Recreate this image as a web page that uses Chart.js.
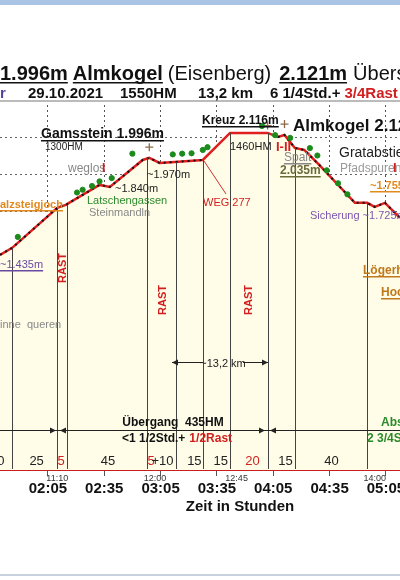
<!DOCTYPE html>
<html>
<head>
<meta charset="utf-8">
<script src="https://cdn.jsdelivr.net/npm/chart.js@4"></script>
<style>
  body { margin: 0; background: #fff; }
  #wrap { width: 400px; height: 580px; position: relative; }
</style>
</head>
<body>
<div id="wrap"><canvas id="profile" width="400" height="580"></canvas></div>
<script>
// Profile: time in minutes from start, elevation in m
const profileTime = [99.5, 106, 130, 134.5, 152.5, 158, 175.5, 179, 184.5, 192.5, 207.5, 222, 242, 247.5, 251, 256.5, 261.5, 269.5, 288.5, 295, 299, 304.5, 312.5];
const profileElev = [1463, 1501, 1717, 1733, 1841, 1830, 1976, 1987, 1960, 1965, 1976, 2122, 2122, 2100, 2111, 2041, 2030, 1949, 1744, 1744, 1722, 1744, 1663];

// waypoints (vertical lines down to the axis)
const wayTime = [106, 130, 135, 178, 193, 207.5, 222, 242, 256.5, 295];
const wayElev = [1501, 1717, 1733, 1987, 1965, 1976, 2122, 2122, 2041, 1744];

// vegetation dots above the path
const treeTime = [109, 140.5, 143.5, 148.5, 152.5, 159, 170, 191.5, 196.5, 201.5, 207.5, 210, 239, 246, 254, 264.5, 268.5, 273.5, 279.5, 284.5];
const treeElev = [1560, 1800, 1815, 1835, 1860, 1878, 2010, 2006, 2010, 2012, 2030, 2045, 2160, 2110, 2095, 2040, 2000, 1920, 1850, 1790];

// summit markers
const peakTime = [179, 242, 251];
const peakElev = [2045, 2162, 2170];

// elevation grid (m)
const gridElev = [1700, 1900, 2100];

// x-axis ticks (minutes) and labels
const tickTimes = [125, 155, 185, 215, 245, 275, 305];
const tickLabels = ['02:05', '02:35', '03:05', '03:35', '04:05', '04:35', '05:05'];

// clock times under the axis
const clockTime = [130, 182, 225.5, 299];
const clockLabels = ['11:10', '12:00', '12:45', '14:00'];

// segment durations (minutes) along the bottom
const segTime = [100, 119, 132, 157, 180, 186, 203, 217, 234, 251.5, 276];
const segLabels = ['0', '25', '5', '45', '5', '+10', '15', '15', '20', '15', '40'];
const segRed = [false, false, true, false, true, false, false, false, true, false, false];

const profilePts = profileTime.map((t, i) => ({ x: t, y: profileElev[i] }));
const dottedPts = profileTime.map((t, i) => ({ x: t, y: (t > 207.5 && t < 247.5) ? null : profileElev[i] }));

function txt(ctx, s, x, y, font, color, opts) {
    opts = opts || {};
    ctx.save();
    ctx.font = font;
    ctx.fillStyle = color;
    ctx.textAlign = opts.align || 'left';
    ctx.textBaseline = 'alphabetic';
    ctx.fillText(s, x, y);
    const w = ctx.measureText(s).width;
    if (opts.underline) {
        let x0 = x;
        if (opts.align === 'center') x0 = x - w / 2;
        ctx.fillRect(x0, y + 2, w, 1.5);
    }
    ctx.restore();
    return w;
}

function arrow(ctx, x, y, dir) {
    ctx.beginPath();
    ctx.moveTo(x, y);
    ctx.lineTo(x - dir * 6, y - 3);
    ctx.lineTo(x - dir * 6, y + 3);
    ctx.closePath();
    ctx.fill();
}

const decorations = {
    id: 'decorations',
    beforeDatasetsDraw(chart) {
        const ctx = chart.ctx;
        const ys = chart.scales.y;
        const { left, right } = chart.chartArea;
        ctx.save();
        ctx.strokeStyle = '#666';
        ctx.lineWidth = 1;
        ctx.setLineDash([2, 3]);
        gridElev.forEach(e => {
            const py = Math.round(ys.getPixelForValue(e)) + 0.5;
            ctx.beginPath();
            ctx.moveTo(left, py);
            ctx.lineTo(right, py);
            ctx.stroke();
        });
        ctx.restore();
    },
    afterDatasetsDraw(chart) {
        const ctx = chart.ctx;
        const xs = chart.scales.x, ys = chart.scales.y;
        const bottom = chart.chartArea.bottom;
        ctx.save();
        ctx.strokeStyle = '#444';
        ctx.lineWidth = 1;
        wayTime.forEach((t, i) => {
            const px = Math.round(xs.getPixelForValue(t)) + 0.5;
            ctx.beginPath();
            ctx.moveTo(px, ys.getPixelForValue(wayElev[i]));
            ctx.lineTo(px, bottom - 1);
            ctx.stroke();
        });
        ctx.restore();
    },
    afterDraw(chart) {
        const ctx = chart.ctx;
        const xs = chart.scales.x;
        const A = 'Arial, "Liberation Sans", sans-serif';

        // frame
        ctx.fillStyle = '#a9c4e4';
        ctx.fillRect(0, 0, 400, 5);
        ctx.fillStyle = '#c8d2de';
        ctx.fillRect(0, 574, 400, 2);
        ctx.fillStyle = '#bbbbbb';
        ctx.fillRect(0, 100, 400, 2);

        // title line
        let x = 0;
        x += txt(ctx, '1.996m', x, 80, 'bold 20px ' + A, '#111', { underline: true }) + 5;
        x += txt(ctx, 'Almkogel', x, 80, 'bold 20px ' + A, '#111', { underline: true }) + 5;
        x += txt(ctx, '(Eisenberg)', x, 80, '20px ' + A, '#111') + 8;
        x += txt(ctx, '2.121m', x, 80, 'bold 20px ' + A, '#111', { underline: true }) + 6;
        txt(ctx, 'Übers', x, 80, '20px ' + A, '#111');

        // sub title
        txt(ctx, 'r', 0, 98, 'bold 15px ' + A, '#5a3ea0');
        txt(ctx, '29.10.2021', 28, 98, 'bold 15px ' + A, '#111');
        txt(ctx, '1550HM', 120, 98, 'bold 15px ' + A, '#111');
        txt(ctx, '13,2 km', 198, 98, 'bold 15px ' + A, '#111');
        const w = txt(ctx, '6 1/4Std.+', 270, 98, 'bold 15px ' + A, '#111');
        txt(ctx, '3/4Rast', 274 + w, 98, 'bold 15px ' + A, '#d21f1f');

        // place labels
        txt(ctx, 'Kreuz 2.116m', 202, 124, 'bold 12px ' + A, '#111', { underline: true });
        txt(ctx, 'Almkogel 2.121', 293, 131, 'bold 17px ' + A, '#111');
        txt(ctx, 'Gamsstein 1.996m', 41, 138, 'bold 14px ' + A, '#111', { underline: true });
        txt(ctx, '1300HM', 45, 150, '10px ' + A, '#222');
        txt(ctx, '1460HM', 230, 150, '11px ' + A, '#222');
        txt(ctx, 'I-II', 276, 151, 'bold 13px ' + A, '#d21f1f');
        txt(ctx, 'Spalt', 284, 161, '12px ' + A, '#888', { underline: true });
        txt(ctx, '2.035m', 280, 174, 'bold 12px ' + A, '#6b6b3a', { underline: true });
        txt(ctx, 'Gratabstieg', 339, 157, '14px ' + A, '#222');
        txt(ctx, 'Pfadspuren', 340, 172, '12px ' + A, '#999');
        txt(ctx, 'I', 393, 172, 'bold 13px ' + A, '#d21f1f');
        txt(ctx, 'weglos', 68, 172, '12px ' + A, '#888');
        txt(ctx, 'I', 102, 172, 'bold 12px ' + A, '#d21f1f');
        txt(ctx, '~1.970m', 147, 178, '11px ' + A, '#222');
        txt(ctx, '~1.840m', 115, 192, '11px ' + A, '#222');
        txt(ctx, 'Latschengassen', 87, 204, '11px ' + A, '#2b8a2b');
        txt(ctx, 'Steinmandln', 89, 216, '11px ' + A, '#888');
        txt(ctx, 'WEG 277', 203, 206, '11px ' + A, '#d21f1f');
        txt(ctx, 'alzsteigjoch', 0, 208, 'bold 11px ' + A, '#e08a1e', { underline: true });
        txt(ctx, '~1.755m', 370, 189, 'bold 11px ' + A, '#e08a1e', { underline: true });
        txt(ctx, 'Sicherung ~1.725m', 310, 219, '11px ' + A, '#7a55b0');
        txt(ctx, '~1.435m', 0, 268, '11px ' + A, '#6a4aa0', { underline: true });
        txt(ctx, 'inne  queren', 0, 328, '11px ' + A, '#888');
        txt(ctx, 'Lögerhü', 363, 274, 'bold 12px ' + A, '#c0791a', { underline: true });
        txt(ctx, 'Hoch', 381, 296, 'bold 12px ' + A, '#c0791a', { underline: true });

        // arrow to WEG 277
        ctx.save();
        ctx.strokeStyle = '#c83030';
        ctx.lineWidth = 1;
        ctx.beginPath();
        ctx.moveTo(204, 161);
        ctx.lineTo(226, 194);
        ctx.stroke();
        ctx.restore();

        // RAST labels
        [[62, 268], [162, 300], [248, 300]].forEach(p => {
            ctx.save();
            ctx.translate(p[0] + 4, p[1]);
            ctx.rotate(-Math.PI / 2);
            txt(ctx, 'RAST', 0, 0, 'bold 11px ' + A, '#d21f1f', { align: 'center' });
            ctx.restore();
        });

        // distance arrows
        ctx.save();
        ctx.strokeStyle = '#222';
        ctx.fillStyle = '#222';
        ctx.lineWidth = 1;
        ctx.beginPath();
        ctx.moveTo(172, 362.5); ctx.lineTo(203, 362.5);
        ctx.moveTo(243, 362.5); ctx.lineTo(268, 362.5);
        ctx.moveTo(0, 430.5); ctx.lineTo(400, 430.5);
        ctx.stroke();
        arrow(ctx, 172, 362.5, -1);
        arrow(ctx, 268, 362.5, 1);
        arrow(ctx, 56, 430.5, 1);
        arrow(ctx, 60, 430.5, -1);
        arrow(ctx, 265, 430.5, 1);
        arrow(ctx, 270, 430.5, -1);
        ctx.restore();
        txt(ctx, '~13,2 km', 223, 367, '11px ' + A, '#222', { align: 'center' });

        txt(ctx, 'Übergang  435HM', 173, 426, 'bold 12px ' + A, '#111', { align: 'center' });
        const w2 = txt(ctx, '<1 1/2Std.+', 122, 442, 'bold 12px ' + A, '#111');
        txt(ctx, '1/2Rast', 126 + w2, 442, 'bold 12px ' + A, '#d21f1f');
        txt(ctx, 'Abs', 381, 426, 'bold 12px ' + A, '#2a8a2a');
        txt(ctx, '2 3/4St', 367, 442, 'bold 12px ' + A, '#2a8a2a');

        // segment durations
        segTime.forEach((t, i) => {
            txt(ctx, segLabels[i], xs.getPixelForValue(t), 465, '13px ' + A, segRed[i] ? '#d21f1f' : '#222', { align: 'center' });
        });

        // clock times
        clockTime.forEach((t, i) => {
            txt(ctx, clockLabels[i], xs.getPixelForValue(t), 481, '9px ' + A, '#333', { align: 'center' });
        });

        txt(ctx, 'Zeit in Stunden', 240, 511, 'bold 15px ' + A, '#111', { align: 'center' });
    }
};

new Chart(document.getElementById('profile'), {
    type: 'line',
    data: {
        datasets: [
            {
                label: 'Profil',
                data: profilePts,
                borderColor: '#e01e1e',
                borderWidth: 2.5,
                backgroundColor: '#fffde8',
                fill: 'start',
                pointRadius: 0,
                tension: 0,
                order: 3
            },
            {
                label: 'Punkte',
                data: dottedPts,
                borderColor: '#111',
                borderWidth: 2,
                borderDash: [2, 4],
                fill: false,
                pointRadius: 0,
                spanGaps: false,
                order: 2
            },
            {
                type: 'scatter',
                label: 'Bewuchs',
                data: treeTime.map((t, i) => ({ x: t, y: treeElev[i] })),
                backgroundColor: '#1c8a1c',
                borderColor: '#1c8a1c',
                pointRadius: 2.6,
                order: 1
            },
            {
                type: 'scatter',
                label: 'Gipfel',
                data: peakTime.map((t, i) => ({ x: t, y: peakElev[i] })),
                borderColor: '#8a6a4a',
                pointStyle: 'cross',
                pointRadius: 4,
                borderWidth: 1.3,
                order: 1
            }
        ]
    },
    plugins: [decorations],
    options: {
        responsive: false,
        animation: false,
        events: [],
        layout: { autoPadding: false, padding: { top: 100, left: 0, right: 0, bottom: 0 } },
        plugins: { legend: { display: false }, tooltip: { enabled: false } },
        scales: {
            x: {
                type: 'linear',
                min: 99.5,
                max: 312.5,
                afterBuildTicks: s => { s.ticks = tickTimes.map(v => ({ value: v })); },
                afterFit: s => { s.height = 110; s.paddingLeft = 0; s.paddingRight = 0; },
                ticks: {
                    autoSkip: false,
                    maxRotation: 0,
                    padding: 4,
                    font: { family: 'Arial, "Liberation Sans", sans-serif', size: 15, weight: 'bold' },
                    color: '#111',
                    callback: v => tickLabels[tickTimes.indexOf(v)]
                },
                grid: {
                    color: '#555',
                    tickColor: '#555',
                    tickLength: 6,
                    lineWidth: 1
                },
                border: { display: true, color: '#c81e1e', width: 2, dash: [2, 3] },
                offset: false
            },
            y: {
                display: false,
                min: 300,
                max: 2300
            }
        }
    }
});
</script>
</body>
</html>
